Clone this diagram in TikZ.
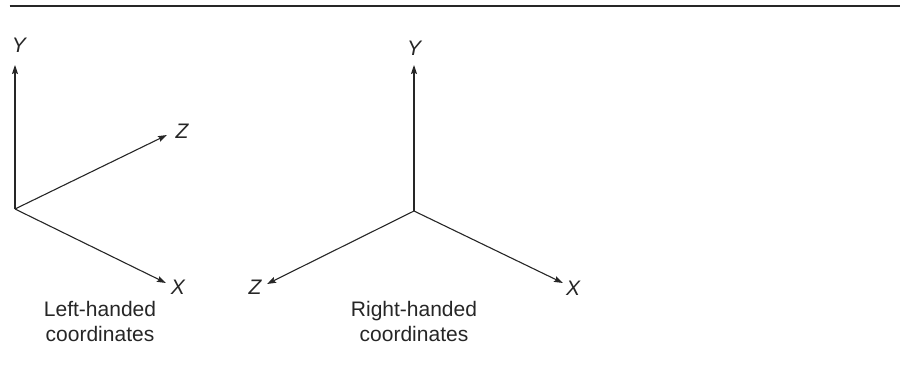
\documentclass[tikz,border=0pt]{standalone}
\usepackage{fontspec}
\setmainfont{Liberation Sans}
\usetikzlibrary{arrows.meta}
\tikzset{
  axis/.style={line width=1.1pt, color=black!85, -{Stealth[length=9pt,width=6pt,inset=1.5pt]}},
  lbl/.style={font=\fontsize{21}{25}\selectfont\itshape, inner sep=0pt, text=black!85},
  caption/.style={font=\fontsize{21}{25}\selectfont, align=center, inner sep=0pt, text=black!85, anchor=base},
  rule/.style={line width=2pt, color=black!85}
}
\begin{document}
\begin{tikzpicture}[x=1pt,y=-1pt]
\useasboundingbox (0,0) rectangle (900,371);
\coordinate (rl) at (9.5,6.5);
\coordinate (rr) at (900,6.5);
\draw[rule] (rl) -- (rr);
% left-handed
\coordinate (O1) at (15,209);
\coordinate (Y1t) at (15,65);
\coordinate (Z1t) at (167,135);
\coordinate (X1t) at (166,283);
\node[lbl] (Y1) at (19,45) {Y};
\node[lbl] (Z1) at (182,131) {Z};
\node[lbl] (X1) at (178,287) {X};
\draw[axis] (O1) -- (Y1t);
\draw[axis] (O1) -- (Z1t);
\draw[axis] (O1) -- (X1t);
\node[caption] (L1) at (100,342) {Left-handed\\coordinates};
% right-handed
\coordinate (O2) at (414,211);
\coordinate (Y2t) at (414,65);
\coordinate (Z2t) at (267,284);
\coordinate (X2t) at (563,283);
\node[lbl] (Y2) at (414,48) {Y};
\node[lbl] (Z2) at (255,287) {Z};
\node[lbl] (X2) at (573,288) {X};
\draw[axis] (O2) -- (Y2t);
\draw[axis] (O2) -- (Z2t);
\draw[axis] (O2) -- (X2t);
\node[caption] (L2) at (414,342) {Right-handed\\coordinates};
\end{tikzpicture}
\end{document}
